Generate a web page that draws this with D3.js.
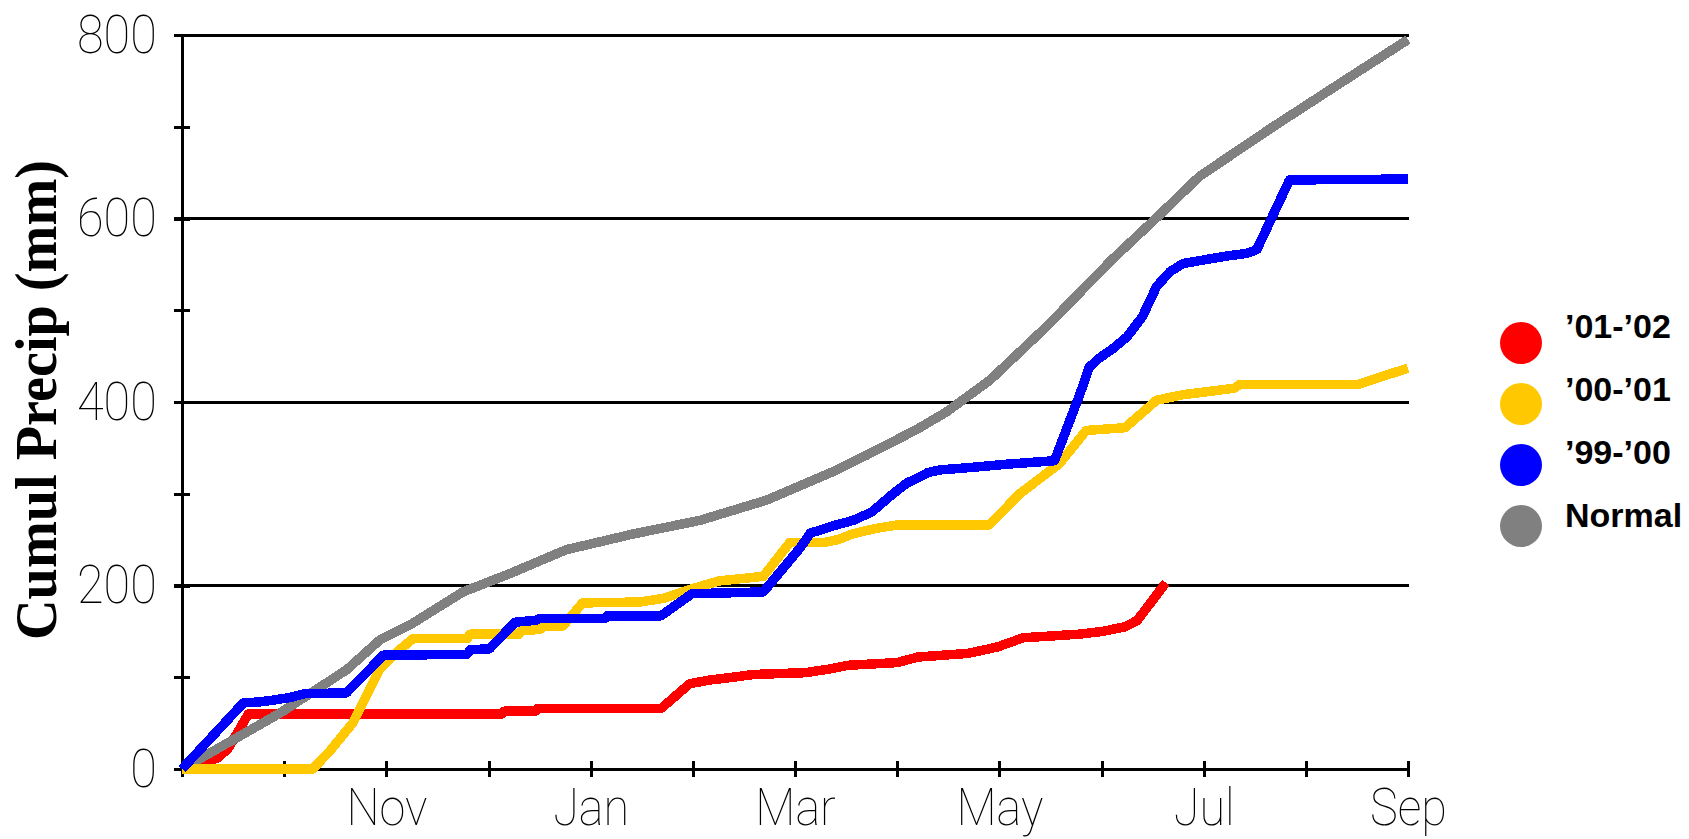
<!DOCTYPE html>
<html>
<head>
<meta charset="utf-8">
<script src="https://cdn.jsdelivr.net/npm/d3@7/dist/d3.min.js"></script>
<style>
  html, body { margin: 0; padding: 0; background: #ffffff; }
  svg { display: block; }
  .tick-label { font-family: Roboto, "Liberation Sans", Arial, sans-serif; font-weight: 100; fill: #000; }
</style>
</head>
<body>
<svg id="chart" width="1689" height="839"></svg>
<script>
// Month ticks along the season (Sep to Sep), labelled every other month
const monthNames = ["Sep", "Oct", "Nov", "Dec", "Jan", "Feb", "Mar", "Apr", "May", "Jun", "Jul", "Aug", "Sep"];
const yTickValues = [0, 100, 200, 300, 400, 500, 600, 700, 800];
const yLabelValues = [0, 200, 400, 600, 800];
const gridValues = [200, 400, 600, 800];

// Cumulative precipitation (mm) as [months since Sep 1, mm]
const precip0102 = [
  [0, 0], [0.25, 8], [0.35, 12], [0.45, 22], [0.65, 60], [3.13, 60], [3.15, 63], [3.46, 63],
  [3.48, 66], [4.69, 66], [4.97, 93], [5.17, 97], [5.39, 100], [5.59, 103], [6.1, 105],
  [6.34, 109], [6.52, 113], [7.0, 116], [7.1, 119], [7.2, 122], [7.69, 126], [7.86, 130],
  [7.98, 133], [8.11, 138], [8.23, 143], [8.79, 147], [9.01, 150], [9.23, 155], [9.35, 162],
  [9.63, 203]
];
const precip0001 = [
  [0, 0], [1.28, 0], [1.45, 20], [1.67, 50], [1.93, 108], [2.13, 130], [2.26, 142], [2.79, 142],
  [2.82, 147], [3.3, 147], [3.32, 151], [3.5, 152], [3.55, 156], [3.73, 156], [3.92, 181],
  [4.48, 182], [4.71, 186], [4.87, 192], [5.07, 199], [5.26, 205], [5.69, 210], [5.95, 247],
  [6.29, 247], [6.42, 250], [6.56, 256], [6.78, 262], [7.0, 266], [7.9, 266], [8.2, 300],
  [8.59, 333], [8.85, 369], [9.23, 372], [9.54, 402], [9.8, 408], [10.3, 415], [10.35, 419],
  [11.51, 419], [12, 437]
];
const precip9900 = [
  [0, 0], [0.6, 72], [0.75, 73], [0.89, 75], [1.06, 78], [1.2, 82], [1.61, 83], [1.97, 124],
  [2.79, 125], [2.82, 130], [3.01, 131], [3.26, 160], [3.46, 162], [3.5, 164], [4.14, 164],
  [4.16, 167], [4.69, 167], [4.99, 191], [5.69, 193], [6.05, 241], [6.15, 257], [6.37, 265],
  [6.57, 271], [6.75, 280], [6.96, 300], [7.1, 312], [7.2, 317], [7.3, 323], [7.42, 326],
  [7.76, 329], [8.05, 332], [8.54, 336], [8.79, 409], [8.88, 438], [8.98, 448], [9.11, 458],
  [9.25, 471], [9.4, 493], [9.54, 526], [9.67, 542], [9.8, 551], [10.22, 559], [10.42, 562],
  [10.52, 566], [10.84, 642], [12, 643]
];
const precipNormal = [
  [0, 0], [0.96, 61], [1.61, 108], [1.94, 141], [2.26, 159], [2.75, 193], [3.21, 213],
  [3.76, 239], [4.41, 256], [5.07, 271], [5.72, 293], [6.37, 324], [6.70, 342], [7.19, 370],
  [7.48, 389], [7.91, 424], [8.46, 482], [9.11, 556], [9.55, 602], [9.96, 646], [10.68, 700],
  [11.33, 747], [12, 795]
];

const seriesNames = ["\u201901-\u201902", "\u201900-\u201901", "\u201999-\u201900", "Normal"];
const seriesColors = ["#ff0000", "#ffc800", "#0000ff", "#808080"];
const seriesData = [precip0102, precip0001, precip9900, precipNormal];

const svg = d3.select("#chart");

const x = d3.scaleLinear().domain([0, 12]).range([182, 1408]);
const y = d3.scaleLinear().domain([0, 800]).range([769, 35]);

// Horizontal grid lines
svg.append("g")
  .selectAll("line")
  .data(gridValues)
  .join("line")
  .attr("x1", 174)
  .attr("x2", 1409)
  .attr("y1", d => y(d))
  .attr("y2", d => y(d))
  .attr("stroke", "#000")
  .attr("stroke-width", 3)
  .attr("shape-rendering", "crispEdges");

// Y axis
const yAxis = svg.append("g")
  .attr("transform", `translate(${x(0)},0)`)
  .call(d3.axisLeft(y)
    .tickValues(yTickValues)
    .tickSizeOuter(0)
    .tickSizeInner(8)
    .tickPadding(20)
    .tickFormat(d => yLabelValues.includes(d) ? String(d) : ""));
yAxis.select(".domain").attr("stroke-width", 3.5).attr("shape-rendering", "crispEdges");
yAxis.selectAll(".tick line")
  .attr("x1", -8).attr("x2", 8)
  .attr("stroke-width", 3).attr("shape-rendering", "crispEdges");
yAxis.selectAll(".tick text")
  .attr("class", "tick-label")
  .attr("font-family", null)
  .attr("font-size", 54)
  .attr("transform", "scale(0.9,1)");

// X axis
const xAxis = svg.append("g")
  .attr("transform", `translate(0,${y(0)})`)
  .call(d3.axisBottom(x)
    .tickValues(d3.range(monthNames.length))
    .tickSizeOuter(0)
    .tickSizeInner(8)
    .tickFormat(i => (i > 0 && i % 2 === 0) ? monthNames[i] : ""));
xAxis.select(".domain").attr("stroke-width", 3.5).attr("shape-rendering", "crispEdges");
xAxis.selectAll(".tick line")
  .attr("y1", -8).attr("y2", 8)
  .attr("stroke-width", 3).attr("shape-rendering", "crispEdges");
xAxis.selectAll(".tick text")
  .attr("class", "tick-label")
  .attr("font-family", null)
  .attr("font-size", 52)
  .attr("y", 56).attr("dy", 0)
  .attr("transform", "scale(0.9,1)");

// Y axis title
svg.append("text")
  .attr("transform", "translate(56,400) rotate(-90)")
  .attr("text-anchor", "middle")
  .attr("font-family", "'Liberation Serif', 'Times New Roman', serif")
  .attr("font-weight", "bold")
  .attr("font-size", 60)
  .attr("textLength", 480)
  .attr("lengthAdjust", "spacingAndGlyphs")
  .text("Cumul Precip (mm)");

// Series lines (drawn red, grey, yellow, blue so blue sits on top)
const line = d3.line().x(d => x(d[0])).y(d => y(d[1]));
const drawOrder = [0, 3, 1, 2];
svg.append("g")
  .selectAll("path")
  .data(drawOrder)
  .join("path")
  .attr("d", i => line(seriesData[i]))
  .attr("fill", "none")
  .attr("stroke", i => seriesColors[i])
  .attr("stroke-width", 9.5)
  .attr("stroke-linejoin", "round")
  .attr("shape-rendering", "crispEdges");

// Legend
const legend = svg.append("g");
legend.selectAll("circle")
  .data(seriesNames)
  .join("circle")
  .attr("cx", 1521)
  .attr("cy", (d, i) => 343 + i * 61)
  .attr("r", 21)
  .attr("fill", (d, i) => seriesColors[i]);
legend.selectAll("text")
  .data(seriesNames)
  .join("text")
  .attr("x", 1565)
  .attr("y", (d, i) => 338 + i * 63)
  .attr("font-family", "'Liberation Sans', Arial, sans-serif")
  .attr("font-weight", "bold")
  .attr("font-size", 34)
  .attr("fill", "#000")
  .text(d => d);
</script>
</body>
</html>
